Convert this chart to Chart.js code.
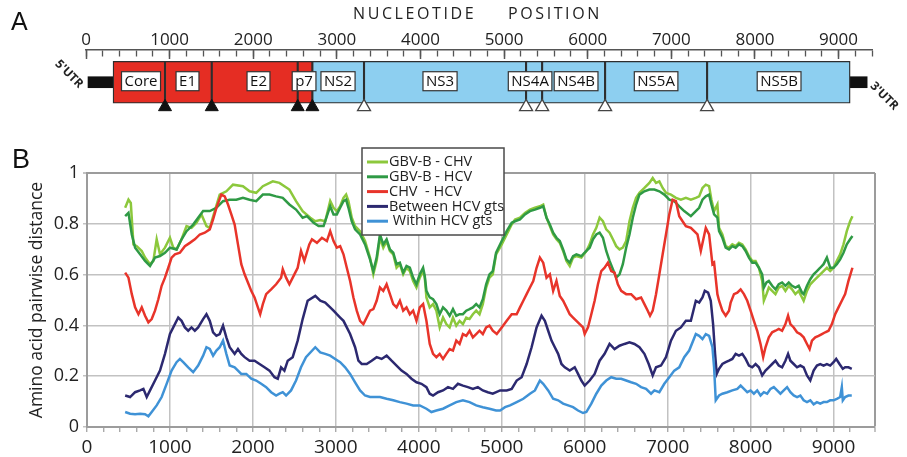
<!DOCTYPE html>
<html>
<head>
<meta charset="utf-8">
<script src="https://cdn.jsdelivr.net/npm/chart.js@4.4.0/dist/chart.umd.min.js"></script>
<style>
html,body{margin:0;padding:0;background:#fff;}
#wrap{position:relative;width:907px;height:457px;overflow:hidden;}
#map{position:absolute;left:0;top:0;}
#plot{position:absolute;left:0;top:125px;}
</style>
</head>
<body>
<div id="wrap">
<canvas id="map" width="907" height="125"></canvas>
<canvas id="plot" width="907" height="332"></canvas>
</div>
<script>
// ---------------- Panel A data (genome map, nucleotide positions) ----------------
const mapTitleWords = ['NUCLEOTIDE', 'POSITION'];
const mapTickValues = [0, 1000, 2000, 3000, 4000, 5000, 6000, 7000, 8000, 9000];
const regionNames = ['Core','E1','E2','p7','NS2','NS3','NS4A','NS4B','NS5A','NS5B'];
const regionStart = [323, 945, 1504, 2532, 2707, 3325, 5263, 5455, 6208, 7428];
const regionEnd   = [945, 1504, 2532, 2707, 3325, 5263, 5455, 6208, 7428, 9139];
const regionKind  = ['s','s','s','s','n','n','n','n','n','n'];
const labelCentre = [658, 1214, 2063, 2608, 3014, 4234, 5311, 5861, 6818, 8289];
const utrNames = ["5'UTR", "3'UTR"];
const utrStart = [24, 9139];
const utrEnd   = [323, 9342];
const cleavageSolid = [945, 1504, 2532, 2707];
const cleavageOpen  = [3325, 5263, 5455, 6208, 7428];

// ---------------- Panel B data ([nucleotide position, distance]) ----------------
const seriesNames = ['GBV-B - CHV', 'GBV-B - HCV', 'CHV  - HCV', 'Between HCV gts', ' Within HCV gts'];
const gbvbChv = [[460,.863],[500,.895],[528,.882],[560,.719],[600,.712],[660,.693],[700,.667],[760,.641],[800,.654],[840,.739],[880,.680],[940,.706],[1000,.745],[1040,.706],[1080,.699],[1140,.739],[1200,.791],[1260,.784],[1320,.804],[1380,.837],[1440,.791],[1480,.784],[1540,.85],[1600,.915],[1680,.928],[1760,.954],[1880,.948],[1960,.928],[2040,.922],[2120,.948],[2240,.967],[2320,.961],[2440,.935],[2520,.889],[2600,.85],[2692,.824],[2752,.81],[2812,.815],[2872,.81],[2932,.89],[2972,.863],[3012,.85],[3052,.869],[3092,.902],[3124,.915],[3152,.889],[3192,.824],[3232,.791],[3292,.771],[3352,.732],[3412,.667],[3452,.601],[3492,.654],[3532,.745],[3572,.706],[3612,.732],[3652,.693],[3692,.68],[3732,.627],[3772,.641],[3812,.601],[3852,.627],[3892,.614],[3932,.575],[3972,.549],[4012,.588],[4052,.614],[4072,.588],[4092,.51],[4132,.471],[4172,.484],[4212,.458],[4252,.392],[4292,.431],[4332,.405],[4372,.392],[4412,.431],[4452,.399],[4492,.418],[4532,.405],[4572,.431],[4612,.425],[4652,.444],[4692,.458],[4732,.444],[4772,.484],[4812,.549],[4852,.588],[4892,.601],[4932,.68],[5000,.719],[5060,.758],[5120,.797],[5160,.817],[5220,.824],[5280,.843],[5340,.856],[5400,.863],[5460,.869],[5500,.876],[5540,.824],[5580,.791],[5620,.758],[5660,.739],[5700,.725],[5740,.693],[5780,.654],[5820,.634],[5860,.667],[5900,.673],[5960,.667],[6020,.693],[6060,.719],[6100,.758],[6140,.784],[6180,.824],[6220,.81],[6260,.778],[6300,.765],[6340,.739],[6380,.712],[6420,.699],[6460,.706],[6500,.732],[6540,.81],[6580,.863],[6620,.902],[6660,.922],[6720,.941],[6780,.961],[6820,.98],[6860,.961],[6900,.967],[6940,.941],[6980,.922],[7040,.915],[7100,.902],[7160,.895],[7220,.902],[7280,.895],[7340,.902],[7380,.908],[7420,.941],[7460,.954],[7500,.948],[7528,.895],[7560,.85],[7600,.876],[7620,.784],[7660,.758],[7700,.712],[7740,.706],[7780,.719],[7820,.712],[7860,.725],[7900,.719],[7940,.699],[7980,.673],[8020,.654],[8060,.654],[8100,.627],[8140,.575],[8160,.497],[8192,.523],[8220,.549],[8260,.536],[8300,.523],[8340,.549],[8380,.556],[8420,.536],[8460,.556],[8500,.542],[8540,.523],[8580,.536],[8620,.51],[8640,.497],[8680,.536],[8720,.562],[8760,.575],[8800,.588],[8840,.601],[8880,.614],[8920,.627],[8960,.614],[9000,.627],[9040,.654],[9080,.68],[9120,.719],[9160,.771],[9200,.81],[9228,.83]];
const gbvbHcv = [[460,.83],[500,.843],[540,.758],[580,.706],[640,.68],[700,.654],[760,.634],[820,.667],[880,.673],[940,.686],[1000,.706],[1080,.699],[1140,.739],[1200,.771],[1280,.797],[1340,.824],[1400,.85],[1480,.85],[1560,.863],[1640,.889],[1720,.895],[1800,.895],[1880,.902],[1960,.895],[2040,.889],[2120,.915],[2200,.915],[2280,.908],[2360,.902],[2440,.876],[2520,.856],[2600,.824],[2652,.83],[2732,.804],[2792,.791],[2852,.791],[2912,.85],[2932,.869],[2972,.837],[3012,.837],[3052,.863],[3092,.889],[3124,.895],[3152,.863],[3192,.81],[3232,.778],[3292,.758],[3352,.719],[3412,.66],[3452,.614],[3492,.667],[3532,.758],[3572,.719],[3612,.739],[3652,.699],[3692,.686],[3732,.641],[3772,.647],[3812,.608],[3852,.634],[3892,.627],[3932,.588],[3972,.562],[4012,.601],[4052,.627],[4072,.595],[4092,.536],[4132,.51],[4172,.503],[4212,.484],[4252,.444],[4292,.471],[4332,.458],[4372,.438],[4412,.464],[4452,.438],[4492,.444],[4532,.444],[4572,.458],[4612,.464],[4652,.471],[4692,.484],[4732,.471],[4772,.503],[4812,.562],[4852,.601],[4892,.614],[4932,.686],[5000,.732],[5060,.771],[5120,.804],[5160,.81],[5220,.817],[5280,.837],[5340,.85],[5400,.856],[5460,.863],[5500,.869],[5540,.824],[5580,.797],[5620,.765],[5660,.745],[5700,.732],[5740,.699],[5780,.66],[5820,.647],[5860,.673],[5900,.68],[5960,.673],[6020,.693],[6060,.706],[6100,.739],[6140,.758],[6180,.765],[6220,.745],[6260,.693],[6300,.654],[6340,.621],[6380,.588],[6420,.601],[6460,.641],[6500,.706],[6540,.758],[6580,.824],[6620,.876],[6660,.915],[6720,.928],[6780,.935],[6840,.935],[6900,.928],[6960,.915],[7020,.895],[7080,.889],[7140,.869],[7200,.85],[7280,.83],[7340,.85],[7380,.863],[7420,.895],[7460,.908],[7500,.915],[7528,.876],[7560,.837],[7600,.824],[7620,.771],[7660,.745],[7700,.706],[7740,.699],[7780,.712],[7820,.706],[7860,.719],[7900,.712],[7940,.693],[7980,.667],[8020,.647],[8060,.647],[8100,.627],[8140,.601],[8160,.549],[8192,.569],[8220,.575],[8260,.556],[8300,.542],[8340,.562],[8380,.569],[8420,.556],[8460,.569],[8500,.556],[8540,.549],[8580,.556],[8620,.529],[8640,.523],[8680,.556],[8720,.582],[8760,.601],[8800,.614],[8840,.627],[8880,.641],[8920,.667],[8960,.627],[9000,.627],[9040,.641],[9080,.66],[9120,.686],[9160,.719],[9200,.739],[9228,.752]];
const chvHcv = [[460,.608],[500,.588],[540,.523],[580,.471],[620,.444],[660,.471],[700,.438],[740,.412],[780,.425],[820,.458],[860,.503],[900,.556],[940,.588],[980,.627],[1020,.667],[1060,.68],[1120,.686],[1180,.712],[1240,.725],[1300,.739],[1360,.758],[1420,.765],[1480,.778],[1520,.817],[1560,.863],[1620,.915],[1660,.908],[1700,.876],[1740,.837],[1780,.797],[1820,.719],[1860,.641],[1900,.601],[1940,.569],[1980,.536],[2020,.51],[2060,.471],[2088,.444],[2120,.484],[2160,.523],[2220,.542],[2280,.562],[2340,.588],[2360,.621],[2400,.588],[2440,.562],[2500,.601],[2540,.627],[2580,.693],[2620,.654],[2680,.719],[2712,.739],[2772,.725],[2832,.745],[2892,.732],[2932,.771],[2972,.732],[3012,.706],[3052,.712],[3092,.68],[3132,.627],[3172,.575],[3212,.51],[3252,.458],[3292,.418],[3332,.405],[3372,.431],[3412,.458],[3452,.464],[3492,.497],[3532,.549],[3572,.536],[3612,.562],[3652,.523],[3692,.484],[3732,.471],[3772,.497],[3812,.458],[3852,.471],[3892,.444],[3932,.458],[3972,.418],[4012,.471],[4052,.484],[4092,.418],[4132,.327],[4172,.288],[4212,.275],[4252,.288],[4292,.268],[4332,.288],[4372,.307],[4412,.301],[4452,.34],[4492,.327],[4532,.366],[4572,.359],[4612,.379],[4652,.353],[4692,.366],[4732,.379],[4772,.366],[4812,.392],[4852,.399],[4892,.379],[4940,.366],[5000,.392],[5060,.418],[5120,.444],[5180,.444],[5220,.471],[5260,.497],[5300,.523],[5340,.549],[5380,.575],[5420,.627],[5460,.667],[5500,.647],[5540,.588],[5580,.601],[5620,.536],[5660,.575],[5700,.516],[5740,.497],[5780,.471],[5820,.444],[5860,.431],[5900,.418],[5940,.405],[5980,.392],[6000,.366],[6040,.392],[6080,.444],[6120,.497],[6160,.562],[6200,.614],[6240,.627],[6280,.647],[6320,.614],[6360,.608],[6400,.562],[6440,.536],[6500,.523],[6560,.523],[6620,.503],[6680,.51],[6720,.484],[6760,.458],[6788,.438],[6820,.458],[6860,.523],[6900,.601],[6940,.68],[6980,.758],[7020,.837],[7060,.895],[7100,.889],[7140,.83],[7180,.81],[7220,.791],[7280,.784],[7360,.758],[7400,.693],[7460,.784],[7500,.758],[7540,.641],[7560,.647],[7600,.523],[7620,.497],[7660,.458],[7700,.438],[7740,.458],[7760,.49],[7800,.523],[7840,.529],[7880,.542],[7920,.523],[7960,.497],[8000,.458],[8040,.418],[8080,.379],[8120,.327],[8152,.275],[8180,.314],[8220,.353],[8260,.373],[8300,.379],[8340,.386],[8380,.379],[8420,.405],[8452,.438],[8480,.405],[8520,.392],[8560,.373],[8600,.366],[8640,.353],[8680,.327],[8712,.307],[8740,.34],[8780,.353],[8820,.359],[8860,.366],[8900,.373],[8940,.379],[8980,.405],[9020,.444],[9060,.471],[9100,.497],[9140,.523],[9180,.575],[9228,.627]];
const betweenGts = [[460,.124],[520,.118],[580,.137],[640,.144],[680,.15],[720,.118],[760,.144],[820,.183],[880,.222],[940,.288],[1000,.366],[1040,.392],[1100,.431],[1140,.418],[1180,.392],[1220,.379],[1260,.392],[1300,.379],[1340,.392],[1400,.425],[1440,.444],[1480,.418],[1520,.373],[1560,.359],[1600,.366],[1640,.399],[1680,.353],[1720,.314],[1780,.288],[1820,.307],[1860,.288],[1900,.275],[1960,.261],[2020,.261],[2080,.248],[2140,.235],[2200,.222],[2260,.196],[2300,.19],[2340,.235],[2380,.222],[2420,.261],[2480,.275],[2540,.34],[2600,.425],[2660,.497],[2752,.516],[2812,.497],[2872,.49],[2932,.471],[2972,.458],[3012,.444],[3052,.431],[3092,.418],[3132,.392],[3172,.366],[3232,.314],[3272,.261],[3312,.248],[3372,.248],[3432,.261],[3492,.275],[3552,.268],[3612,.281],[3672,.261],[3732,.242],[3792,.222],[3852,.209],[3912,.19],[3972,.176],[4032,.17],[4092,.157],[4132,.131],[4172,.124],[4232,.137],[4292,.144],[4352,.157],[4412,.15],[4472,.17],[4532,.163],[4592,.157],[4652,.15],[4712,.157],[4772,.144],[4832,.137],[4892,.131],[4980,.144],[5060,.144],[5120,.15],[5180,.183],[5240,.196],[5300,.248],[5360,.314],[5420,.392],[5480,.438],[5520,.418],[5560,.379],[5600,.34],[5640,.314],[5680,.288],[5720,.248],[5760,.235],[5820,.222],[5880,.235],[5920,.209],[5960,.183],[6000,.163],[6060,.183],[6120,.209],[6180,.261],[6240,.288],[6300,.327],[6360,.307],[6420,.32],[6480,.327],[6540,.333],[6600,.327],[6660,.314],[6720,.288],[6772,.248],[6820,.203],[6860,.235],[6920,.242],[6980,.275],[7040,.34],[7100,.379],[7160,.392],[7220,.418],[7280,.418],[7340,.497],[7380,.49],[7420,.51],[7448,.536],[7488,.529],[7520,.497],[7548,.405],[7572,.288],[7592,.209],[7620,.229],[7660,.248],[7700,.255],[7740,.261],[7780,.268],[7820,.288],[7860,.281],[7900,.288],[7940,.268],[7980,.242],[8020,.235],[8060,.248],[8100,.235],[8140,.203],[8180,.222],[8220,.235],[8260,.248],[8300,.261],[8340,.242],[8380,.235],[8420,.261],[8452,.288],[8480,.261],[8520,.248],[8560,.235],[8600,.242],[8640,.235],[8680,.203],[8720,.183],[8760,.222],[8800,.242],[8840,.248],[8880,.242],[8920,.248],[8960,.242],[9000,.255],[9032,.268],[9072,.248],[9112,.229],[9140,.235],[9180,.235],[9220,.229]];
const withinGts = [[460,.059],[520,.052],[580,.05],[640,.052],[700,.05],[740,.042],[780,.059],[840,.085],[900,.118],[960,.17],[1020,.222],[1080,.255],[1120,.268],[1160,.255],[1220,.235],[1280,.216],[1340,.242],[1400,.281],[1440,.314],[1480,.307],[1520,.281],[1560,.301],[1600,.314],[1640,.34],[1680,.288],[1720,.242],[1780,.235],[1820,.222],[1860,.209],[1920,.209],[1980,.19],[2040,.183],[2100,.17],[2160,.157],[2220,.137],[2280,.124],[2320,.131],[2360,.137],[2400,.124],[2460,.144],[2520,.183],[2580,.235],[2640,.275],[2752,.314],[2812,.294],[2872,.288],[2932,.281],[2992,.268],[3052,.255],[3112,.235],[3172,.209],[3232,.176],[3292,.144],[3352,.124],[3412,.118],[3472,.118],[3532,.118],[3612,.111],[3692,.105],[3772,.098],[3852,.092],[3932,.085],[4012,.085],[4092,.072],[4152,.059],[4212,.065],[4292,.072],[4372,.085],[4452,.098],[4532,.105],[4612,.098],[4692,.085],[4772,.078],[4852,.072],[4932,.065],[4980,.065],[5040,.078],[5100,.085],[5180,.098],[5260,.111],[5340,.131],[5400,.144],[5460,.183],[5500,.17],[5560,.144],[5620,.111],[5680,.105],[5740,.092],[5800,.085],[5860,.078],[5920,.065],[5980,.055],[6020,.059],[6080,.092],[6140,.131],[6200,.163],[6260,.183],[6320,.196],[6380,.19],[6440,.19],[6500,.183],[6560,.176],[6620,.17],[6680,.157],[6740,.15],[6800,.131],[6840,.144],[6900,.137],[6960,.17],[7020,.196],[7080,.222],[7140,.235],[7200,.275],[7260,.301],[7340,.366],[7380,.359],[7420,.346],[7460,.366],[7500,.359],[7540,.314],[7560,.235],[7580,.105],[7620,.124],[7660,.131],[7720,.137],[7780,.144],[7840,.15],[7880,.163],[7920,.15],[7960,.137],[8000,.144],[8040,.131],[8080,.144],[8120,.124],[8160,.137],[8200,.131],[8240,.15],[8280,.157],[8320,.144],[8360,.131],[8400,.144],[8440,.157],[8480,.137],[8520,.124],[8560,.118],[8600,.124],[8640,.105],[8680,.098],[8720,.105],[8760,.089],[8800,.098],[8840,.092],[8880,.098],[8920,.098],[8960,.105],[9000,.105],[9040,.111],[9080,.118],[9100,.157],[9112,.105],[9140,.118],[9180,.124],[9220,.124]];

// ---------------- styles ----------------
const FONT = "'Open Sans', 'DejaVu Sans', sans-serif";
Chart.defaults.font.family = FONT;
Chart.defaults.color = '#222';
const RED = '#e52d23', BLUE = '#8dcff0', OUTLINE = '#2e2e2e';
const seriesColors = ['#8cc83c', '#2f9a45', '#e8342a', '#2c2970', '#3f92d6'];
const GRID = '#c2c2c2', FRAME = '#9c9c9c';
const MAP_ROW = 36.5, TRI_ROW = 64.5;

// ---------------- Panel A ----------------
const mapDecor = {
  id: 'mapDecor',
  afterDatasetsDraw(chart) {
    const {ctx, scales: {x, y}} = chart;
    const cy = y.getPixelForValue(MAP_ROW) - 1;
    ctx.save();
    ctx.font = "15px " + FONT;
    ctx.textAlign = 'center';
    ctx.textBaseline = 'middle';
    regionNames.forEach((name, i) => {
      const cx = x.getPixelForValue(labelCentre[i]);
      const w = ctx.measureText(name).width + 6, h = 19;
      ctx.fillStyle = '#fff';
      ctx.fillRect(cx - w / 2, cy - h / 2, w, h);
      ctx.strokeStyle = '#333';
      ctx.lineWidth = 1.2;
      ctx.strokeRect(cx - w / 2, cy - h / 2, w, h);
      ctx.fillStyle = '#111';
      ctx.fillText(name, cx, cy + 0.5);
    });
    // UTR labels (rotated)
    ctx.font = "bold 12px " + FONT;
    ctx.fillStyle = '#222';
    const l5 = x.getPixelForValue(utrStart[0]);
    ctx.save();
    ctx.translate(l5 - 19, cy - 7);
    ctx.rotate(Math.PI / 4);
    ctx.fillText(utrNames[0], 0, 0);
    ctx.restore();
    const r3 = x.getPixelForValue(utrEnd[1]);
    ctx.save();
    ctx.translate(r3 + 17, cy + 15);
    ctx.rotate(Math.PI / 4);
    ctx.fillText(utrNames[1], 0, 0);
    ctx.restore();
    // axis title with letter spacing
    ctx.font = "16px " + FONT;
    ctx.fillStyle = '#222';
    ctx.textAlign = 'left';
    if ('letterSpacing' in ctx) ctx.letterSpacing = '2.6px';
    ctx.fillText(mapTitleWords[0], 353, 14);
    ctx.fillText(mapTitleWords[1], 508, 14);
    if ('letterSpacing' in ctx) ctx.letterSpacing = '0px';
    // panel letter
    ctx.textBaseline = 'alphabetic';
    ctx.font = "25px 'Liberation Sans', Arial, sans-serif";
    ctx.fillStyle = '#111';
    ctx.fillText('A', 11, 30);
    ctx.restore();
  }
};

const setMapTicks = s => { s.ticks = mapTickValues.map(v => ({value: v})); };

new Chart(document.getElementById('map'), {
  type: 'bar',
  data: {
    datasets: [
      {
        label: 'cleavage (host)', type: 'scatter', indexAxis: 'x', xAxisID: 'x', yAxisID: 'y',
        data: cleavageSolid.map(v => ({x: v, y: TRI_ROW})),
        pointStyle: 'triangle', pointRadius: 7.5, pointHoverRadius: 7.5,
        backgroundColor: '#111', borderColor: '#111', borderWidth: 1, clip: false, order: 1
      },
      {
        label: 'cleavage (viral)', type: 'scatter', indexAxis: 'x', xAxisID: 'x', yAxisID: 'y',
        data: cleavageOpen.map(v => ({x: v, y: TRI_ROW})),
        pointStyle: 'triangle', pointRadius: 7.5, pointHoverRadius: 7.5,
        backgroundColor: '#fff', borderColor: '#444', borderWidth: 1.3, clip: false, order: 1
      },
      {
        label: 'polyprotein', indexAxis: 'y', xAxisID: 'x', yAxisID: 'y', stack: 'g',
        data: regionStart.map((s, i) => ({x: [s, regionEnd[i]], y: MAP_ROW})),
        backgroundColor: regionKind.map(k => k === 's' ? RED : BLUE),
        borderColor: OUTLINE, borderWidth: 1.4, borderSkipped: false, barThickness: 42, clip: false, order: 2
      },
      {
        label: 'UTR', indexAxis: 'y', xAxisID: 'x', yAxisID: 'y', stack: 'g',
        data: utrStart.map((s, i) => ({x: [s, utrEnd[i]], y: MAP_ROW})),
        backgroundColor: '#111', borderWidth: 0, barThickness: 11, clip: false, order: 3
      }
    ]
  },
  options: {
    indexAxis: 'y',
    responsive: false,
    animation: false,
    events: [],
    layout: {padding: {left: 86, right: 35, top: 0, bottom: 0}},
    plugins: {legend: {display: false}, tooltip: {enabled: false}, title: {display: false}},
    scales: {
      x: {
        type: 'linear', position: 'top', min: 0, max: 9400, stacked: false,
        afterBuildTicks: setMapTicks,
        ticks: {autoSkip: false, maxRotation: 0, padding: 0,
                font: {size: 17}, color: '#222', callback: v => String(v)},
        grid: {display: false, drawTicks: false},
        border: {display: false},
        afterFit: s => { s.height = 50; }
      },
      xr: {
        type: 'linear', axis: 'x', position: {y: 0}, min: 0, max: 9400,
        ticks: {display: false, stepSize: 200, autoSkip: false},
        grid: {drawOnChartArea: false, drawTicks: true, tickLength: 6, tickColor: '#555', tickWidth: 1.3},
        border: {display: true, color: '#555', width: 1.5}
      },
      xR: {
        type: 'linear', axis: 'x', position: {y: 0}, min: 0, max: 9400,
        afterBuildTicks: setMapTicks,
        ticks: {display: false, autoSkip: false},
        grid: {drawOnChartArea: false, drawTicks: true, tickLength: 9, tickColor: '#555', tickWidth: 1.5},
        border: {display: false}
      },
      y: {type: 'linear', display: false, min: 0, max: 75, reverse: true, offset: false}
    }
  },
  plugins: [mapDecor]
});

// ---------------- Panel B ----------------
const allSeries = [gbvbChv, gbvbHcv, chvHcv, betweenGts, withinGts];

const plotDecor = {
  id: 'plotDecor',
  afterDraw(chart) {
    const ctx = chart.ctx;
    ctx.save();
    ctx.font = "27px 'Liberation Sans', Arial, sans-serif";
    ctx.fillStyle = '#111';
    ctx.textAlign = 'left';
    ctx.textBaseline = 'alphabetic';
    ctx.fillText('B', 12, 43);
    const bx = 362, by = 23, bw = 142, bh = 87;
    ctx.fillStyle = '#fff';
    ctx.fillRect(bx, by, bw, bh);
    ctx.strokeStyle = '#4a4a4a';
    ctx.lineWidth = 1.5;
    ctx.strokeRect(bx, by, bw, bh);
    ctx.font = "14.5px " + FONT;
    ctx.textBaseline = 'middle';
    chart.data.datasets.forEach((ds, i) => {
      const yy = by + 14 + i * 14.8;
      ctx.strokeStyle = ds.borderColor;
      ctx.lineWidth = 3;
      ctx.beginPath();
      ctx.moveTo(bx + 5, yy);
      ctx.lineTo(bx + 26, yy);
      ctx.stroke();
      ctx.fillStyle = '#222';
      ctx.fillText(ds.label, bx + 27, yy);
    });
    ctx.restore();
  }
};

new Chart(document.getElementById('plot'), {
  type: 'line',
  data: {
    datasets: allSeries.map((s, i) => ({
      label: seriesNames[i],
      data: s.map(p => ({x: p[0], y: p[1]})),
      borderColor: seriesColors[i],
      backgroundColor: seriesColors[i],
      borderWidth: 2.5,
      pointRadius: 0,
      tension: 0,
      fill: false,
      order: allSeries.length - i
    }))
  },
  options: {
    responsive: false,
    animation: false,
    events: [],
    layout: {padding: {left: 0, right: 32, top: 48, bottom: 0}},
    plugins: {legend: {display: false}, tooltip: {enabled: false}},
    scales: {
      x: {
        type: 'linear', min: 0, max: 9500,
        ticks: {stepSize: 200, autoSkip: false, maxRotation: 0, padding: 4,
                font: {size: 19}, color: '#222',
                callback: v => (v % 1000 === 0 ? String(v) : '')},
        grid: {
          color: c => (c.tick && (c.tick.value % 1000 === 0 || c.tick.value === 9500)) ? (c.tick.value === 9500 ? FRAME : GRID) : 'rgba(0,0,0,0)',
          lineWidth: c => (c.tick && c.tick.value === 9500) ? 2 : 1.5,
          tickColor: FRAME, tickLength: 5, tickWidth: 1.2
        },
        border: {color: FRAME, width: 2},
        afterFit: s => { s.height = 30; }
      },
      y: {
        min: 0, max: 1,
        ticks: {stepSize: 0.2, padding: 4, font: {size: 18}, color: '#222',
                callback: v => (v === 0 || v === 1) ? String(v) : v.toFixed(1)},
        grid: {
          color: c => (c.tick && c.tick.value === 1) ? FRAME : GRID,
          lineWidth: c => (c.tick && c.tick.value === 1) ? 2 : 1.5,
          tickLength: 4, tickColor: GRID
        },
        border: {color: FRAME, width: 2},
        title: {display: true, text: 'Amino acid pairwise distance', font: {size: 17.5}, color: '#222',
                padding: {top: 27, bottom: 0}},
        afterFit: s => { s.width = 87; }
      }
    }
  },
  plugins: [plotDecor]
});
</script>
</body>
</html>
